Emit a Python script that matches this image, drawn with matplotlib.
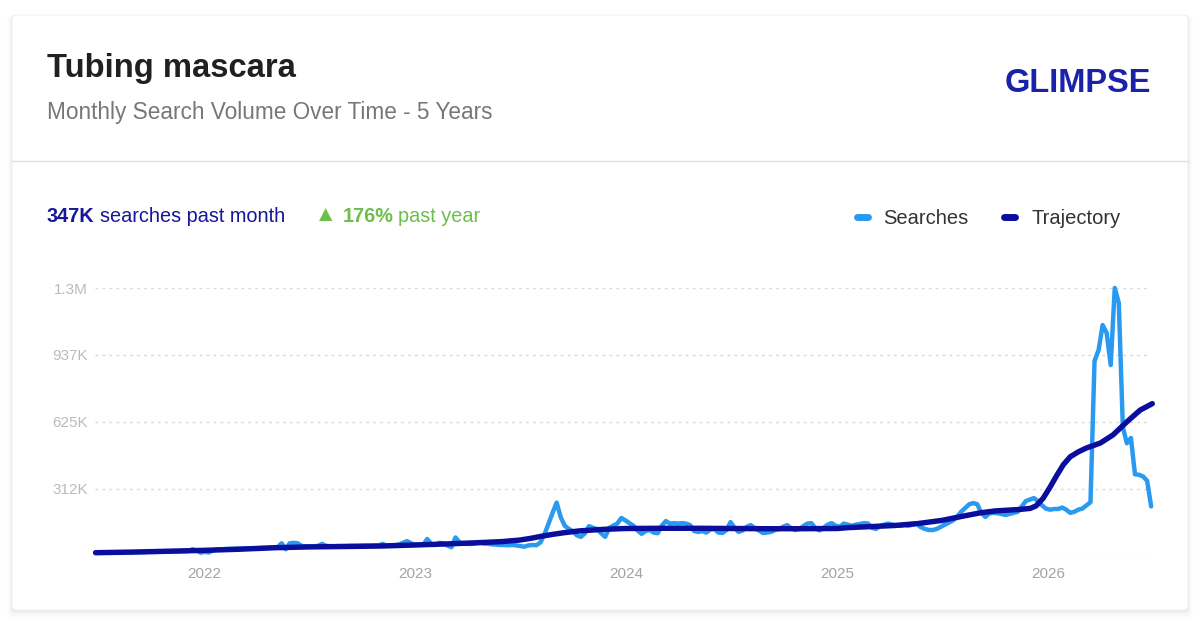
import matplotlib
matplotlib.use("Agg")
import matplotlib.pyplot as plt
from matplotlib.patches import FancyBboxPatch
from matplotlib.lines import Line2D
import pandas as pd
import numpy as np

# ---------------- data (thousands of searches, weekly) ----------------
searches_2021 = [14, 14, 14, 15, 15, 15, 15, 16, 16, 16, 17, 17, 17, 18, 18, 18, 19, 19, 19,
                 20, 20, 21, 21, 22, 30, 24, 14]
searches_2022 = [18, 15, 25, 30, 30, 31, 32, 32, 33, 33, 34, 34, 35, 35, 36, 36, 37, 38, 40, 58,
                 30, 58, 60, 58, 45, 44, 43, 44, 46, 55, 46, 44, 44, 45, 45, 45, 46, 46, 46, 47,
                 47, 47, 48, 48, 55, 46, 48, 49, 52, 60, 68, 58]
searches_2023 = [50, 52, 50, 78, 55, 50, 60, 58, 48, 40, 85, 62, 56, 55, 55, 58, 64, 57, 56, 53,
                 52, 50, 50, 49, 50, 48, 45, 42, 48, 50, 49, 62, 100, 150, 200, 248, 180, 140, 125,
                 115, 95, 88, 105, 138, 130, 125, 105, 88, 130, 140, 150, 176]
searches_2024 = [165, 152, 140, 118, 102, 115, 120, 108, 105, 140, 162, 150, 152, 150, 152, 150,
                 143, 115, 111, 115, 108, 122, 125, 108, 106, 120, 157, 130, 111, 118, 135, 143,
                 128, 118, 106, 108, 111, 120, 125, 135, 143, 128, 120, 125, 138, 150, 152, 128,
                 118, 130, 145, 152]
searches_2025 = [140, 135, 150, 145, 140, 145, 148, 152, 150, 130, 125, 140, 145, 150, 145, 140,
                 140, 143, 140, 145, 150, 134, 125, 120, 120, 125, 135, 145, 155, 165, 181, 205,
                 222, 240, 246, 240, 200, 181, 198, 200, 198, 195, 190, 195, 200, 205, 230, 255,
                 262, 269, 255, 235]
searches_2026 = [220, 215, 218, 218, 225, 215, 200, 205, 215, 220, 235, 250, 910, 960, 1077, 1040,
                 890, 1250, 1180, 600, 525, 550, 380, 378, 370, 350, 230]
searches_k = (searches_2021 + searches_2022 + searches_2023 + searches_2024
              + searches_2025 + searches_2026)
search_start = "2021-06-27"

traj_dates = ["2021-06-27", "2021-09-01", "2021-11-01", "2022-01-01", "2022-03-01", "2022-05-01",
              "2022-07-01", "2022-09-01", "2022-11-01", "2023-01-01", "2023-02-25", "2023-04-23",
              "2023-06-01", "2023-07-01", "2023-07-20", "2023-08-08", "2023-08-28", "2023-09-15",
              "2023-10-13", "2023-11-23", "2024-01-01",
              "2024-03-01", "2024-05-01", "2024-07-01", "2024-09-01", "2024-11-01", "2025-01-01",
              "2025-01-19", "2025-03-01", "2025-04-10", "2025-05-20", "2025-07-01", "2025-08-07",
              "2025-09-05", "2025-10-01", "2025-10-25",
              "2025-11-13", "2025-12-01", "2025-12-11", "2025-12-23", "2026-01-04", "2026-01-15",
              "2026-01-27", "2026-02-08", "2026-02-22", "2026-03-08", "2026-04-01", "2026-04-23",
              "2026-05-17", "2026-06-09", "2026-06-30"]
traj_k = [14, 17, 21, 25, 30, 37, 41, 43, 45, 50, 55, 61,
          66, 73, 81, 91, 100, 107,
          116, 123, 127,
          128, 128, 127, 126, 126, 127,
          131, 136, 141, 150, 165, 185,
          200, 209, 213,
          216, 221, 233, 268, 320, 372,
          425, 462, 485, 503, 526, 564,
          625, 680, 710]

ytick_vals = [0, 312500, 625000, 937500, 1250000]
ytick_labels = ["", "312K", "625K", "937K", "1.3M"]
xtick_years = [2022, 2023, 2024, 2025, 2026]

title = "Tubing mascara"
subtitle = "Monthly Search Volume Over Time - 5 Years"

# ---------------- style ----------------
W, H = 1200, 622
FONT = ["Liberation Sans", "DejaVu Sans"]
plt.rcParams["font.family"] = FONT
C_SEARCH = "#2A9AF0"
C_TRAJ = "#0A0E9C"
C_GREEN = "#6DBE4B"
C_NAVY_TXT = "#16169A"

fig = plt.figure(figsize=(W / 100, H / 100), dpi=100)
fig.patch.set_facecolor("white")


def fx(px):
    return px / W


def fy(py):
    return 1 - py / H


# card shadow (offset downward) + card
for i, a in enumerate([0.03, 0.02, 0.013, 0.008]):
    d = (i + 1) * 1.2
    sh = FancyBboxPatch((fx(12 - d), fy(611 + 1.5 * d)), fx(1176 + 2 * d), (596 + 1.5 * d) / H,
                        boxstyle="round,pad=0,rounding_size=0.006", transform=fig.transFigure,
                        facecolor="black", edgecolor="none", alpha=a, zorder=0)
    fig.add_artist(sh)
card = FancyBboxPatch((fx(12), fy(610)), fx(1176), 595 / H,
                      boxstyle="round,pad=0,rounding_size=0.006", transform=fig.transFigure,
                      facecolor="white", edgecolor="#f0f0f0", linewidth=0.6, zorder=0.5)
fig.add_artist(card)

# header separator
fig.add_artist(Line2D([fx(12), fx(1188)], [fy(161), fy(161)], transform=fig.transFigure,
                      color="#dedede", lw=1.0, zorder=1))

# header texts
fig.text(fx(47), fy(68.5), title, fontsize=23.6, fontweight="bold", color="#202020",
         va="center", ha="left", zorder=2)
fig.text(fx(47), fy(113), subtitle, fontsize=16.3, color="#777777", va="center", ha="left",
         zorder=2)
fig.text(fx(1005), fy(83), "GLIMPSE", fontsize=23.5, fontweight="bold", color="#1A22A8",
         va="center", ha="left", zorder=2)

# stats line
fig.text(fx(47), fy(217), "347K", fontsize=14.3, fontweight="bold", color=C_NAVY_TXT,
         va="center", ha="left", zorder=2)
fig.text(fx(100), fy(217), "searches past month", fontsize=14.3, color=C_NAVY_TXT,
         va="center", ha="left", zorder=2)
fig.text(fx(319), fy(215), "▲", fontsize=12.5, color=C_GREEN, va="center", ha="left",
         family=["DejaVu Sans"], zorder=2)
fig.text(fx(343), fy(217), "176%", fontsize=14.3, fontweight="bold", color=C_GREEN,
         va="center", ha="left", zorder=2)
fig.text(fx(398), fy(217), "past year", fontsize=14.3, color=C_GREEN, va="center", ha="left",
         zorder=2)

# legend
fig.add_artist(Line2D([fx(857), fx(868)], [fy(217), fy(217)], transform=fig.transFigure,
                      color=C_SEARCH, lw=5, solid_capstyle="round", zorder=2))
fig.text(fx(883), fy(219), "Searches", fontsize=14.5, color="#333333", va="center", ha="left",
         zorder=2)
fig.add_artist(Line2D([fx(1004), fx(1015)], [fy(217), fy(217)], transform=fig.transFigure,
                      color=C_TRAJ, lw=5, solid_capstyle="round", zorder=2))
fig.text(fx(1031), fy(219), "Trajectory", fontsize=14.5, color="#333333", va="center",
         ha="left", zorder=2)

# ---------------- chart ----------------
ax = fig.add_axes([fx(95), fy(555.7), fx(1150 - 95), (555.7 - 288) / H])
ax.set_zorder(3)
ax.set_facecolor("none")
s_dates = pd.date_range(search_start, periods=len(searches_k), freq="7D")
ax.plot(s_dates, np.array(searches_k) * 1000, color=C_SEARCH, lw=3.2,
        solid_joinstyle="round", solid_capstyle="round", clip_on=False, zorder=3)
ax.plot(pd.to_datetime(traj_dates), np.array(traj_k) * 1000, color=C_TRAJ, lw=3.9,
        solid_joinstyle="round", solid_capstyle="round", clip_on=False, zorder=4)

ax.set_xlim(pd.Timestamp("2021-06-26"), pd.Timestamp("2026-06-26"))
ax.set_ylim(0, 1250000)
ax.set_yticks(ytick_vals)
ax.set_yticklabels(ytick_labels)
ax.set_xticks([pd.Timestamp(f"{y}-01-01") for y in xtick_years])
ax.set_xticklabels([str(y) for y in xtick_years])
ax.tick_params(axis="y", length=0, pad=5, labelsize=11, labelcolor="#bbbbbb")
ax.tick_params(axis="x", length=0, pad=8, labelsize=11, labelcolor="#a3a3a3")
ax.yaxis.grid(True, color="#d9d9d9", linestyle=(0, (2, 3)), lw=1.0)
ax.xaxis.grid(False)
for sp in ax.spines.values():
    sp.set_visible(False)
ax.set_axisbelow(True)

fig.savefig("out.png", dpi=100, facecolor="white")
